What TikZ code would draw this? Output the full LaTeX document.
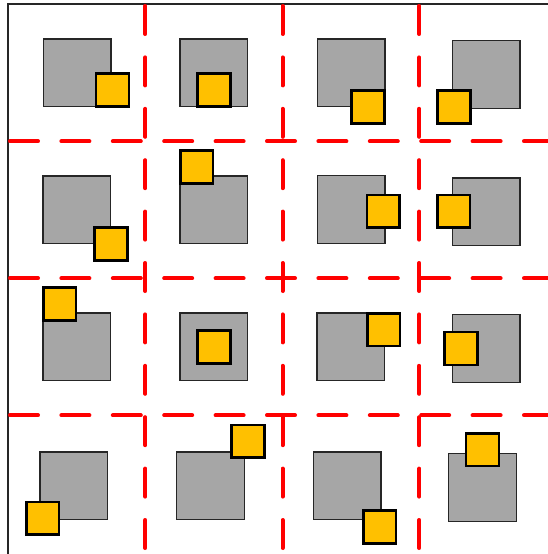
\documentclass[tikz,border=0pt]{standalone}
\definecolor{basegray}{RGB}{166,166,166}
\definecolor{edgedark}{RGB}{38,38,38}
\definecolor{markyellow}{RGB}{255,192,0}
\definecolor{gridred}{RGB}{255,0,0}

\begin{document}
\begin{tikzpicture}[
    x=1pt, y=-1pt,
    % Block styles
    baseblock/.style={
        rectangle, draw=edgedark, fill=basegray,
        minimum size=67.7pt, inner sep=0pt,
        line width=1.3pt
    },
    markblock/.style={
        rectangle, draw=black, fill=markyellow,
        minimum size=32.8pt, inner sep=0pt,
        line width=2.7pt
    },
    gridline/.style={
        draw=gridred, line width=4pt, line cap=round,
        dash pattern=on 28pt off 23.4pt
    },
    frameline/.style={
        draw=black!85, line width=1.3pt
    },
]

\useasboundingbox (0,0) rectangle (548,554);
\clip (0,0) rectangle (548,554);

% ===== OUTER FRAME =====
\draw[frameline] (8,4) rectangle (557,555.2);

% ===== GRID LINES =====
\draw[gridline] (145.3,6) -- (145.3,560);
\draw[gridline] (282.5,6) -- (282.5,560);
\draw[gridline] (419.2,6) -- (419.2,560);
\draw[gridline] (10,141.3) -- (560,141.3);
\draw[gridline] (10,278.3) -- (560,278.3);
\draw[gridline] (10,415.3) -- (560,415.3);

% ===== ROW 1 =====
\node[baseblock] (base11) at (77,72.7) {};
\node[baseblock] (base12) at (213.8,72.8) {};
\node[baseblock] (base13) at (351.2,72.8) {};
\node[baseblock] (base14) at (486.2,74.3) {};
\node[markblock] (mark11) at (112.5,90) {};
\node[markblock] (mark12) at (213.8,90) {};
\node[markblock] (mark13) at (368,107.2) {};
\node[markblock] (mark14) at (453.8,107) {};

% ===== ROW 2 =====
\node[baseblock] (base21) at (76.8,209.7) {};
\node[baseblock] (base22) at (213.7,209.8) {};
\node[baseblock] (base23) at (351.2,209.5) {};
\node[baseblock] (base24) at (486.2,211.7) {};
\node[markblock] (mark21) at (111.2,244.2) {};
\node[markblock] (mark22) at (196.7,167) {};
\node[markblock] (mark23) at (383.3,211.3) {};
\node[markblock] (mark24) at (453.7,211.3) {};

% ===== ROW 3 =====
\node[baseblock] (base31) at (76.8,346.8) {};
\node[baseblock] (base32) at (213.8,346.8) {};
\node[baseblock] (base33) at (350.7,346.8) {};
\node[baseblock] (base34) at (486.2,348.5) {};
\node[markblock] (mark31) at (59.7,304) {};
\node[markblock] (mark32) at (213.8,346.8) {};
\node[markblock] (mark33) at (383.7,329.7) {};
\node[markblock] (mark34) at (461.2,348.5) {};

% ===== ROW 4 =====
\node[baseblock] (base41) at (73.7,485.8) {};
\node[baseblock] (base42) at (210.5,485.8) {};
\node[baseblock] (base43) at (347.2,485.8) {};
\node[baseblock] (base44) at (482.5,487.3) {};
\node[markblock] (mark41) at (42.7,518.3) {};
\node[markblock] (mark42) at (248,441.3) {};
\node[markblock] (mark43) at (379.7,527) {};
\node[markblock] (mark44) at (482.5,449.7) {};

\end{tikzpicture}
\end{document}
